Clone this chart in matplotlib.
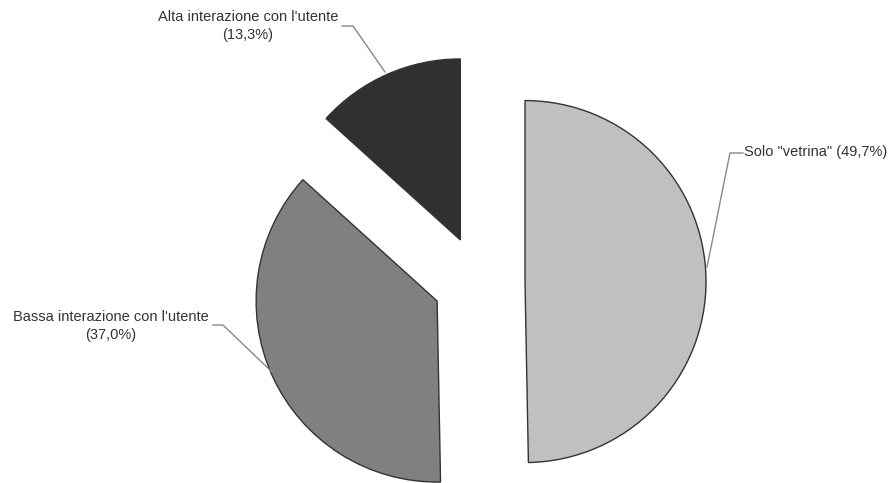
import matplotlib.pyplot as plt

plt.rcParams['font.family'] = ['Liberation Sans', 'DejaVu Sans']

# quote per tipo di sito
labels = ["Alta interazione con l'utente", "Bassa interazione con l'utente", 'Solo "vetrina"']
values = [13.3, 37.0, 49.7]
colors = ['#303030', '#808080', '#c0c0c0']

fig = plt.figure(figsize=(8.91, 4.83), dpi=100)
ax = fig.add_axes([0, 0, 1, 1])

# coordinate in pixel, y verso l'alto (explode in unita' assolute)
wedges, _ = ax.pie(values, colors=colors, startangle=90, counterclock=True,
                   explode=[46] * 3, center=(479, 201), radius=181,
                   wedgeprops=dict(edgecolor='#333333', linewidth=1.0))

ax.set_xlim(0, 891)
ax.set_ylim(0, 483)
ax.set_aspect('equal')
ax.axis('off')

def pct(v):
    return f'{v:.1f}'.replace('.', ',') + '%'

txt = dict(fontsize=10.5, color='#333333', linespacing=1.45)
lead = dict(color='#888888', linewidth=1.0)

# etichette con linee di richiamo
ax.text(248, 457, f'{labels[0]}\n({pct(values[0])})', ha='center', va='center', **txt)
ax.plot([342, 353, 385], [457, 457, 411], **lead)

ax.text(111, 157, f'{labels[1]}\n({pct(values[1])})', ha='center', va='center', **txt)
ax.plot([213, 223, 272], [158, 158, 111], **lead)

ax.text(744, 331, f'{labels[2]} ({pct(values[2])})', ha='left', va='center', **txt)
ax.plot([743, 730, 707], [330, 330, 216], **lead)

fig.savefig('out.png', dpi=100)
